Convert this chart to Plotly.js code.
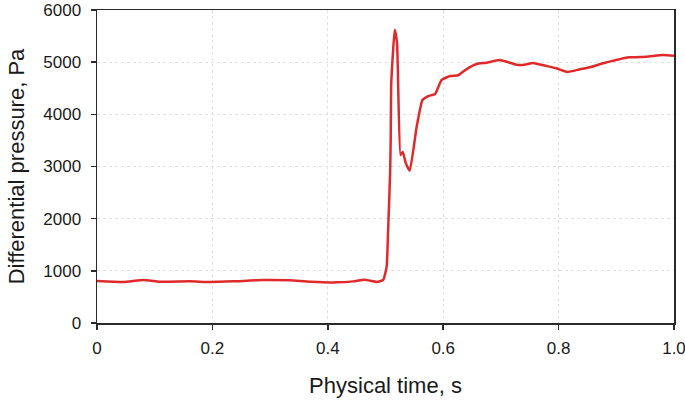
<!DOCTYPE html>
<html>
<head>
<meta charset="utf-8">
<script src="https://cdn.plot.ly/plotly-3.0.1.min.js"></script>
<style>
  html, body { margin: 0; padding: 0; background: #fff; }
  #chart { width: 685px; height: 402px; }
</style>
</head>
<body>
<div id="chart"></div>
<script>
// differential pressure vs physical time
const timeS = [
  0, 0.046, 0.081, 0.109, 0.161, 0.196, 0.236, 0.288, 0.334, 0.369, 0.415, 0.444, 0.464, 0.485, 0.496,
  0.502, 0.504, 0.506, 0.508, 0.509, 0.510, 0.516, 0.520, 0.526, 0.530, 0.535, 0.542,
  0.554, 0.564, 0.574, 0.586, 0.597, 0.612, 0.626, 0.640, 0.658, 0.675, 0.698,
  0.727, 0.741, 0.756, 0.779, 0.796, 0.815, 0.837, 0.854, 0.877, 0.900, 0.923, 0.952, 0.981, 1.0
];
const pressurePa = [
  805, 786, 825, 792, 798, 786, 798, 825, 818, 792, 779, 798, 830, 786, 825,
  1080, 1590, 2230, 2875, 3510, 4600, 5620, 5370, 3220, 3280, 3070, 2920,
  3760, 4275, 4350, 4390, 4658, 4735, 4750, 4863, 4965, 4990, 5042,
  4952, 4952, 4985, 4927, 4882, 4812, 4863, 4901, 4978, 5042, 5093, 5105, 5137, 5125
];
const xTicks = [0, 0.2, 0.4, 0.6, 0.8, 1.0];
const xTickText = ['0', '0.2', '0.4', '0.6', '0.8', '1.0'];
const yTicks = [0, 1000, 2000, 3000, 4000, 5000, 6000];

const FONT = 'Liberation Sans, Arial, sans-serif';
const axisCommon = {
  showline: true, linecolor: '#2a2a2a', linewidth: 1.5, mirror: true,
  ticks: 'outside', ticklen: 5, tickcolor: '#2a2a2a', tickwidth: 1.5,
  showgrid: true, gridcolor: '#e2e2e2', griddash: '3px,3px', gridwidth: 1,
  zeroline: false, tickfont: { family: FONT, size: 17, color: '#1a1a1a' },
  ticklabeloverflow: 'allow'
};

const trace = {
  x: timeS, y: pressurePa, type: 'scatter', mode: 'lines',
  line: { color: '#e0292b', width: 2.5, shape: 'spline', smoothing: 0.4 },
  hoverinfo: 'skip', cliponaxis: false
};

const layout = {
  width: 685, height: 402,
  margin: { l: 97, r: 11, t: 10, b: 79 },
  paper_bgcolor: '#fff', plot_bgcolor: '#fff',
  showlegend: false,
  xaxis: Object.assign({}, axisCommon, {
    range: [0, 1], tickvals: xTicks, ticktext: xTickText, ticklabelstandoff: 4,
    title: { text: 'Physical time, s', font: { family: FONT, size: 22, color: '#1a1a1a' }, standoff: 20 }
  }),
  yaxis: Object.assign({}, axisCommon, {
    range: [0, 6000], tickvals: yTicks, ticklabelstandoff: 6,
    title: { text: 'Differential pressure, Pa', font: { family: FONT, size: 22, color: '#1a1a1a' }, standoff: 12 }
  })
};

Plotly.newPlot('chart', [trace], layout, { displayModeBar: false, staticPlot: true });
</script>
</body>
</html>
